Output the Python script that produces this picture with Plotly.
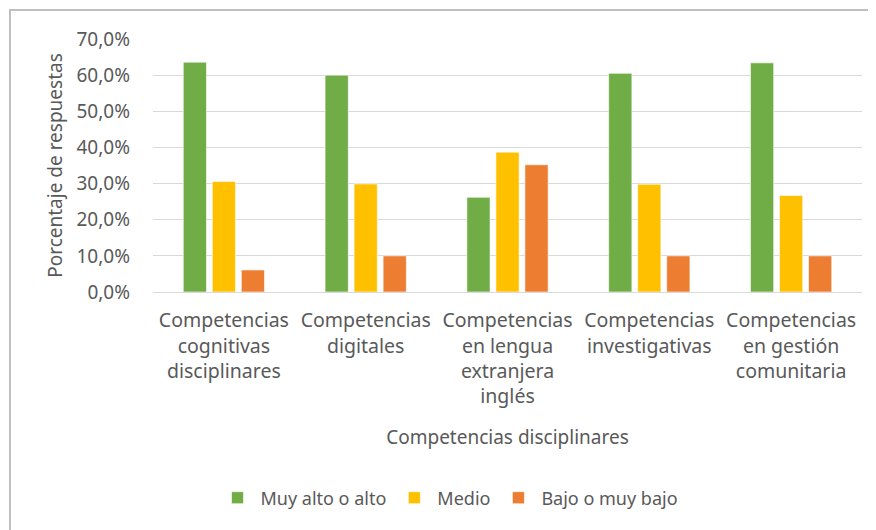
import plotly.graph_objects as go

categories = [
    "Competencias<br>cognitivas<br>disciplinares",
    "Competencias<br>digitales",
    "Competencias<br>en lengua<br>extranjera<br>inglés",
    "Competencias<br>investigativas",
    "Competencias<br>en gestión<br>comunitaria",
]
series_names = ["Muy alto o alto", "Medio", "Bajo o muy bajo"]
muy_alto = [63.6, 60.0, 26.2, 60.5, 63.4]
medio = [30.6, 29.9, 38.7, 29.8, 26.7]
bajo = [6.1, 10.0, 35.2, 10.0, 10.0]
y_ticks = [0, 10, 20, 30, 40, 50, 60, 70]
y_tick_labels = ["0,0%", "10,0%", "20,0%", "30,0%", "40,0%", "50,0%", "60,0%", "70,0%"]
colors = ["#70AD47", "#FFC000", "#ED7D31"]

FONT = "Noto Sans"
GRAY = "#595959"

fig = go.Figure()
for name, vals, col in zip(series_names, [muy_alto, medio, bajo], colors):
    fig.add_trace(go.Bar(
        x=categories, y=vals, name=name,
        marker=dict(color=col, line=dict(color="rgba(255,255,255,0.6)", width=1)),
    ))

# page body has an 8px margin; figure coordinates = screen - 8
W, H = 868, 522
L, R, T, B = 145, 14, 31, 238
pw, ph = W - L - R, H - T - B

fig.update_layout(
    width=W, height=H,
    margin=dict(l=L, r=R, t=T, b=B, autoexpand=False),
    paper_bgcolor="white", plot_bgcolor="white",
    barmode="group", bargap=0.386, bargroupgap=0.2,
    separators=",.",
    font=dict(family=FONT, size=19, color=GRAY),
    showlegend=True,
    legend=dict(orientation="h", x=(441 - L) / pw, xanchor="center",
                y=(T + ph - 490) / ph, yanchor="middle",
                font=dict(size=18, color=GRAY), traceorder="normal",
                itemwidth=36),
    xaxis=dict(
        title=dict(text="Competencias disciplinares", font=dict(size=19, color=GRAY), standoff=22),
        tickfont=dict(size=19.5, color=GRAY), automargin=False,
        showgrid=False, showline=True, linecolor="#d9d9d9", linewidth=1,
        ticks="", ticklabelstandoff=11,
    ),
    yaxis=dict(
        title=dict(text="Porcentaje de respuestas", font=dict(size=19, color=GRAY), standoff=8),
        range=[0, 70], tickmode="array", tickvals=y_ticks, ticktext=y_tick_labels,
        tickfont=dict(size=19, color=GRAY), automargin=False,
        showgrid=True, gridcolor="#d9d9d9", gridwidth=1,
        zeroline=False, showline=False, ticks="", ticklabelstandoff=22,
    ),
    shapes=[dict(type="rect", xref="paper", yref="paper",
                 x0=(2 - L) / pw, x1=(W + 20 - L) / pw,
                 y0=(T + ph - (H + 20)) / ph, y1=(T + ph - 2) / ph,
                 line=dict(color="#bfbfbf", width=2), fillcolor="rgba(0,0,0,0)", layer="below")],
)

fig.write_html("out.html")
